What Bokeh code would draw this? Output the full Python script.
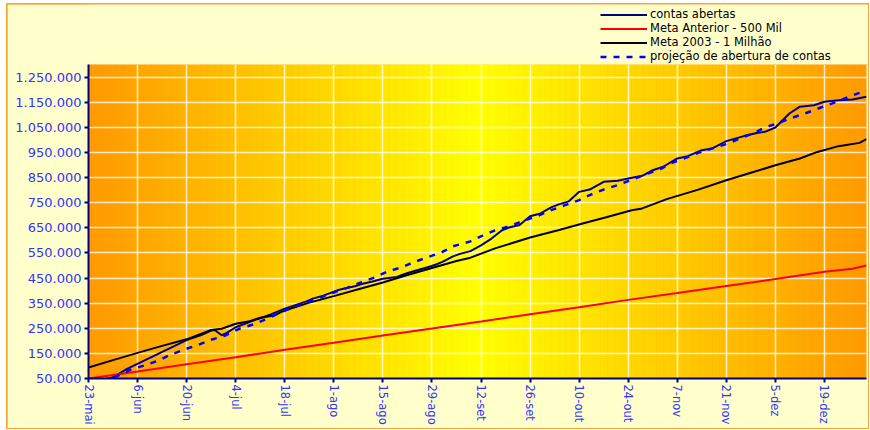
import math
from datetime import datetime, timedelta

from bokeh.plotting import figure
from bokeh.layouts import column
from bokeh.models import (Range1d, FixedTicker, CustomJSTickFormatter, Legend,
                          LegendItem)
from bokeh.embed import file_html
from bokeh.resources import INLINE

# ---------------- data (values in thousands, x in days since 23-mai-2003) ----------------
start_date = "2003-05-23"
end_date = "2003-12-31"

contas_days = [0, 4, 7, 11, 28, 32, 35, 36, 38, 39, 42, 45, 46, 49, 52, 56, 59, 62, 64, 67,
               71, 73, 76, 78, 81, 84, 88, 90, 92, 95, 97, 99, 101, 104, 106, 109, 112, 115,
               118, 120, 123, 126, 129, 132, 134, 137, 140, 143, 147, 151, 154, 158, 161, 164,
               168, 171, 175, 178, 182, 187, 191, 193, 196, 200, 203, 207, 210, 214, 218, 222]
contas_vals = [40, 44, 55, 88, 203, 222, 241, 243, 222, 228, 254, 270, 276, 290, 305, 328, 342,
               356, 368, 380, 401, 408, 417, 426, 436, 447, 454, 465, 474, 486, 494, 503, 514,
               536, 546, 557, 580, 607, 640, 651, 661, 696, 707, 731, 742, 755, 793, 802, 833,
               837, 846, 857, 879, 893, 926, 935, 959, 966, 995, 1015, 1028, 1032, 1049, 1105,
               1132, 1138, 1152, 1158, 1161, 1172]

anterior_days = [0, 14, 28, 42, 56, 70, 84, 98, 112, 126, 140, 154, 168, 182, 196, 210, 218, 222]
anterior_vals = [50, 78, 107, 135, 164, 192, 221, 249, 277, 306, 334, 363, 390, 418, 446, 475,
                 487, 500]

meta_days = [0, 7, 14, 21, 28, 35, 38, 42, 46, 49, 53, 56, 63, 70, 77, 84, 91, 98, 105, 109,
             116, 126, 134, 141, 148, 155, 158, 165, 174, 182, 189, 196, 203, 208, 214, 220, 222]
meta_vals = [94, 123, 152, 180, 206, 243, 248, 268, 278, 292, 301, 321, 352, 378, 405, 432, 462,
             490, 518, 531, 568, 611, 640, 667, 693, 720, 727, 764, 802, 839, 869, 899, 926, 952,
             975, 988, 1003]

proj_days = [0, 4, 8, 12, 16, 20, 23, 27, 31, 35, 39, 43, 47, 51, 54, 58, 62, 66, 70, 74, 78,
             82, 85, 89, 93, 97, 101, 104, 109, 112, 116, 120, 124, 128, 132, 136, 140, 143,
             147, 151, 155, 159, 163, 166, 170, 174, 178, 182, 186, 190, 193, 197, 201, 205,
             209, 213, 217, 221, 222]
proj_vals = [38, 44, 58, 85, 102, 122, 142, 164, 182, 204, 221, 248, 265, 288, 308, 332, 352,
             372, 392, 412, 434, 454, 474, 491, 514, 534, 554, 576, 596, 616, 640, 656, 677, 696,
             720, 740, 760, 780, 802, 820, 841, 863, 882, 906, 926, 948, 966, 983, 1006, 1028,
             1049, 1068, 1089, 1108, 1129, 1149, 1172, 1192, 1195]

series_labels = ["contas abertas", "Meta Anterior - 500 Mil", "Meta 2003 - 1 Milhão",
                 "projeção de abertura de contas"]

x_tick_days = [0, 14, 28, 42, 56, 70, 84, 98, 112, 126, 140, 154, 168, 182, 196, 210]
month_abbr = ["jan", "fev", "mar", "abr", "mai", "jun", "jul", "ago", "set", "out", "nov", "dez"]

y_ticks = [50000, 150000, 250000, 350000, 450000, 550000, 650000, 750000, 850000, 950000,
           1050000, 1150000, 1250000]
y_tick_labels = ["50.000", "150.000", "250.000", "350.000", "450.000", "550.000", "650.000",
                 "750.000", "850.000", "950.000", "1.050.000", "1.150.000", "1.250.000"]

# ---------------- helpers ----------------
d0 = datetime.strptime(start_date, "%Y-%m-%d")
d1 = datetime.strptime(end_date, "%Y-%m-%d")


def to_dates(days):
    return [d0 + timedelta(days=d) for d in days]


def to_units(vals):
    return [v * 1000 for v in vals]


def ms(dt):
    return (dt - datetime(1970, 1, 1)).total_seconds() * 1000.0


FONT = "DejaVu Sans"
LABEL_BLUE = "#3333FF"
NAVY = "#000080"
CREAM = "#FFFFCC"

styles = [dict(line_color=NAVY, line_width=2),
          dict(line_color="#FF0000", line_width=2),
          dict(line_color="black", line_width=2),
          dict(line_color="#0000FF", line_width=2.5, line_dash="6 7")]

# ---------------- main chart ----------------
p = figure(width=861, height=364, x_axis_type="datetime", output_backend="svg",
           toolbar_location=None,
           x_range=Range1d(d0, d1), y_range=Range1d(50000, 1300000),
           min_border_left=81, min_border_right=2, min_border_top=0, min_border_bottom=50,
           background_fill_color="#FF9900", border_fill_color=CREAM)

# gradient background: orange at edges, yellow at center
n = 111
span = (d1 - d0) / n
lefts, rights, cols = [], [], []
edge = (255, 153, 0)
mid = (255, 255, 0)
for i in range(n):
    t = (i + 0.5) / n
    f = abs(2 * t - 1)
    c = tuple(int(round(mid[k] + (edge[k] - mid[k]) * f)) for k in range(3))
    lefts.append(d0 + span * i)
    rights.append(d0 + span * (i + 1))
    cols.append("#%02x%02x%02x" % c)
p.quad(left=lefts, right=rights, bottom=50000, top=1300000, fill_color=cols,
       line_color=cols, line_width=0.5, level="image")

# series
p.line(to_dates(contas_days), to_units(contas_vals), **styles[0])
p.line(to_dates(anterior_days), to_units(anterior_vals), **styles[1])
p.line(to_dates(meta_days), to_units(meta_vals), **styles[2])
p.line(to_dates(proj_days), to_units(proj_vals), **styles[3])

# axes
x_ticks = [ms(d) for d in to_dates(x_tick_days)]
p.xaxis.ticker = FixedTicker(ticks=x_ticks)
p.xaxis.formatter = CustomJSTickFormatter(
    args=dict(meses=month_abbr),
    code="const d = new Date(tick); return d.getUTCDate() + '-' + meses[d.getUTCMonth()];")
p.xaxis.major_label_orientation = "vertical"
p.yaxis.ticker = FixedTicker(ticks=y_ticks)
p.yaxis.major_label_overrides = {t: l for t, l in zip(y_ticks, y_tick_labels)}

for ax in (p.xaxis[0], p.yaxis[0]):
    ax.axis_line_color = NAVY
    ax.axis_line_width = 2
    ax.major_tick_line_color = NAVY
    ax.major_tick_line_width = 2
    ax.major_tick_out = 4
    ax.major_tick_in = 0
    ax.minor_tick_line_color = None
    ax.major_label_text_color = LABEL_BLUE
    ax.major_label_text_font = FONT
    ax.major_label_standoff = 3
p.yaxis.major_label_text_font_size = "13px"
p.xaxis.major_label_text_font_size = "11.5px"
p.xaxis.major_label_standoff = 2

# grid
p.xgrid.ticker = FixedTicker(ticks=x_ticks)
p.ygrid.ticker = FixedTicker(ticks=y_ticks)
for g in (p.xgrid[0], p.ygrid[0]):
    g.grid_line_color = "white"
    g.grid_line_alpha = 0.8
    g.grid_line_width = 1.5
p.outline_line_color = "white"
p.outline_line_alpha = 0.6

# ---------------- legend strip above the chart ----------------
# (its frame is aligned with the main chart's frame by the column layout)
pl = figure(width=861, height=60, output_backend="svg", toolbar_location=None,
            x_range=Range1d(0, 1), y_range=Range1d(0, 1),
            min_border_left=81, min_border_right=2, min_border_top=0, min_border_bottom=0,
            background_fill_color=CREAM, border_fill_color=CREAM)
pl.axis.visible = False
pl.grid.visible = False
pl.outline_line_color = None
nan = float("nan")
proxies = [pl.line([nan, nan], [nan, nan], **s) for s in styles]

legend = Legend(items=[LegendItem(label=lab, renderers=[r]) for lab, r in zip(series_labels, proxies)],
                location=(512, 1), background_fill_color=CREAM, background_fill_alpha=1,
                border_line_color=None, padding=0, spacing=0, margin=0,
                glyph_width=47, glyph_height=13, label_height=13, label_standoff=3,
                label_text_font=FONT, label_text_font_size="11.5px", label_text_color="black")
pl.add_layout(legend)

layout = column(pl, p, spacing=0)
layout.margin = (4, 2, 2, 7)
layout.styles = {"outline": "2px solid #F7A63A", "outline-offset": "-1px",
                 "background-color": CREAM}

open("out.html", "w").write(file_html(layout, INLINE))
